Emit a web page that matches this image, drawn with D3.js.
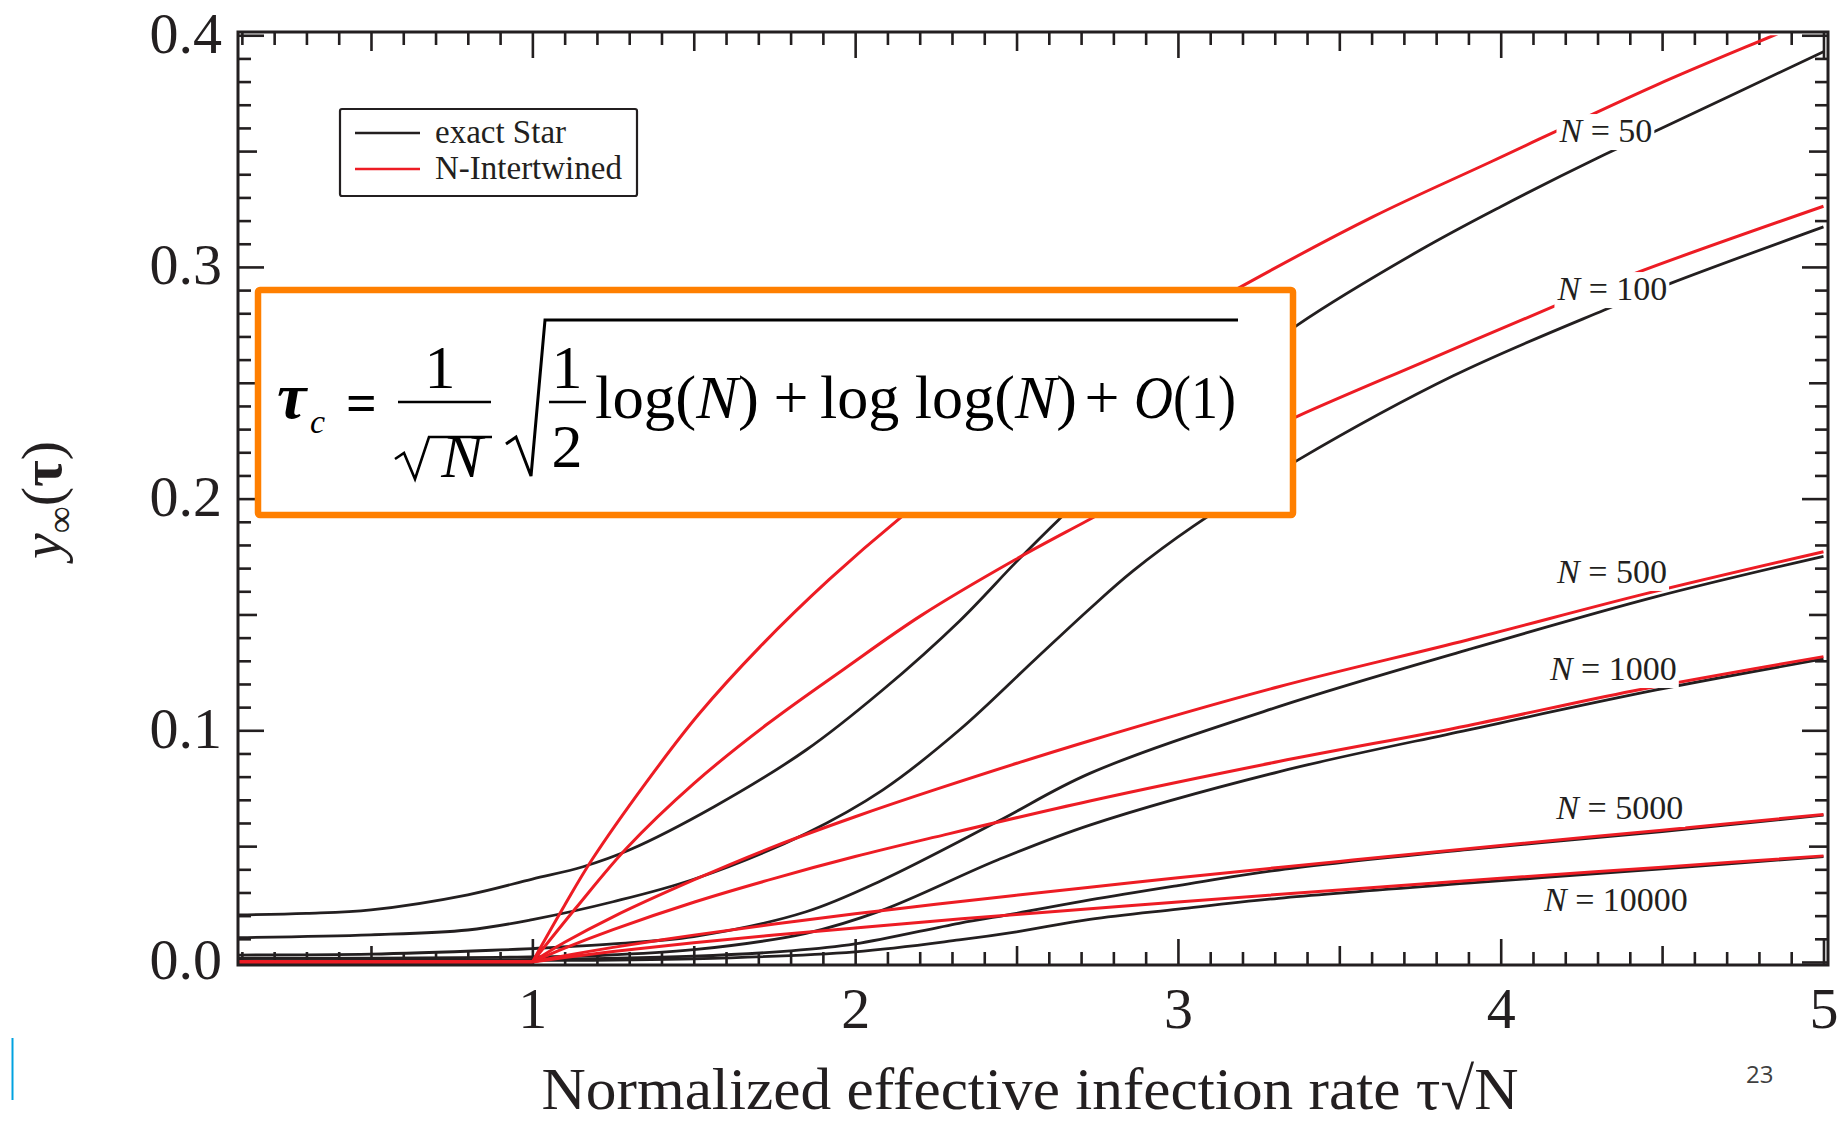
<!DOCTYPE html>
<html>
<head>
<meta charset="utf-8">
<script src="https://cdn.jsdelivr.net/npm/d3@7"></script>
<style>
  body { margin: 0; background: #fff; }
  svg { display: block; }
</style>
</head>
<body>
<script>
const width = 1847;
const height = 1123;

// Network sizes, one pair of curves each.
const sizes = [50, 100, 500, 1000, 5000, 10000];

// exact Star curves, [tau*sqrt(N), y_inf].
const star50 = [[0.09,0.0203],[0.3,0.0210],[0.5,0.0225],[0.8,0.0290],[1.0,0.0358],[1.157,0.0411],[1.3,0.0483],[1.563,0.067],[1.848,0.0915],[2.085,0.1174],[2.322,0.147],[2.5,0.1728],[2.63,0.1908],[2.8,0.213],[3.0,0.236],[3.2,0.257],[3.37,0.2749],[3.751,0.3073],[4.0,0.326],[4.3,0.347],[4.5,0.360],[5.0,0.3929]];
const star100 = [[0.09,0.0105],[0.5,0.0117],[0.8,0.0138],[1.0,0.0183],[1.25,0.026],[1.5,0.0357],[1.848,0.0555],[2.085,0.0742],[2.322,0.100],[2.559,0.1308],[2.727,0.1525],[2.861,0.1688],[3.047,0.1880],[3.37,0.2165],[3.853,0.2530],[4.321,0.2814],[4.526,0.2929],[5.0,0.3173]];
const star500 = [[0.09,0.003],[0.5,0.0034],[0.9,0.0052],[1.0,0.0058],[1.25,0.0078],[1.5,0.011],[1.848,0.0217],[2.085,0.0354],[2.441,0.0606],[2.727,0.0814],[3.312,0.1102],[3.897,0.1347],[4.482,0.1577],[5.0,0.1751]];
const star1000 = [[0.09,0.0015],[0.9,0.002],[1.2,0.0028],[1.5,0.0053],[1.848,0.0124],[2.085,0.0224],[2.441,0.044],[2.727,0.0591],[3.312,0.0821],[3.897,0.1001],[4.482,0.1174],[5.0,0.1308]];
const star5000 = [[0.09,0.0006],[0.9,0.0009],[1.5,0.0025],[1.8,0.0048],[2.0,0.0078],[2.322,0.0167],[2.5,0.021],[2.727,0.0268],[3.0,0.033],[3.312,0.0397],[3.897,0.0485],[4.5,0.0563],[5.0,0.0634]];
const star10000 = [[0.09,0.0004],[0.9,0.0006],[1.5,0.0014],[2.0,0.0044],[2.322,0.0095],[2.5,0.013],[2.727,0.0184],[3.0,0.0228],[3.312,0.0275],[3.897,0.034],[4.5,0.0402],[5.0,0.0455]];

// N-Intertwined curves, zero below the threshold.
const nimfa50 = [[0.09,0],[1.0,0],[1.1,0.0245],[1.184,0.044],[1.35,0.077],[1.516,0.107],[1.705,0.136],[1.919,0.165],[2.138,0.1915],[2.4,0.2197],[2.7,0.2492],[3.0,0.2758],[3.196,0.2915],[3.605,0.3217],[3.97,0.3454],[4.482,0.3785],[4.848,0.4001],[5.0,0.409]];
const nimfa100 = [[0.09,0],[1.0,0],[1.136,0.0235],[1.291,0.049],[1.5,0.077],[1.729,0.1028],[1.966,0.1265],[2.204,0.1495],[2.494,0.1735],[2.713,0.190],[3.0,0.2112],[3.37,0.2355],[3.751,0.2584],[4.175,0.2836],[4.416,0.2972],[5.0,0.3262]];
const nimfa500 = [[0.09,0],[1.0,0],[1.1,0.0085],[1.25,0.0195],[1.5,0.0354],[1.75,0.0499],[2.0,0.0627],[2.25,0.0745],[2.727,0.0955],[3.312,0.1188],[3.897,0.139],[4.453,0.1591],[5.0,0.1771]];
const nimfa1000 = [[0.09,0],[1.0,0],[1.1,0.006],[1.25,0.014],[1.5,0.0258],[1.75,0.0361],[2.0,0.0455],[2.25,0.054],[2.727,0.0695],[3.312,0.0865],[3.897,0.102],[4.409,0.117],[5.0,0.1318]];
const nimfa5000 = [[0.09,0],[1.0,0],[1.1,0.0027],[1.25,0.0063],[1.5,0.0116],[1.75,0.0164],[2.0,0.0208],[2.25,0.0249],[2.727,0.0323],[3.0,0.0364],[3.5,0.0434],[4.0,0.0503],[4.5,0.0569],[5.0,0.0637]];
const nimfa10000 = [[0.09,0],[1.0,0],[1.1,0.0019],[1.25,0.0045],[1.5,0.0083],[1.75,0.0116],[2.0,0.0147],[2.25,0.0177],[2.5,0.0205],[3.0,0.0259],[3.5,0.0311],[4.0,0.0361],[4.5,0.0409],[5.0,0.0458]];

const starSeries = [star50, star100, star500, star1000, star5000, star10000];
const nimfaSeries = [nimfa50, nimfa100, nimfa500, nimfa1000, nimfa5000, nimfa10000];

// Tick labels.
const xTickLabels = ["1", "2", "3", "4", "5"];
const yTickLabels = ["0.0", "0.1", "0.2", "0.3", "0.4"];
const legendLabels = ["exact Star", "N-Intertwined"];

// Where each "N = ..." label sits (data units, text centre / baseline).
const labelAt = [[4.326,0.3539],[4.346,0.2857],[4.345,0.1636],[4.349,0.1217],[4.369,0.0617],[4.357,0.0220]];

const ink = "#231f20";
const red = "#ed1c24";
const orange = "#ff7f00";
const serif = "'Liberation Serif', 'Times New Roman', serif";

const svg = d3.select("body").append("svg")
  .attr("width", width)
  .attr("height", height)
  .style("background", "#fff");

// Scales: plot frame 238..1828 x 32..965.
const x = d3.scaleLinear().domain([0.088, 5.014]).range([238, 1828]);
const y = d3.scaleLinear().domain([-0.0013, 0.4014]).range([965, 32]);

const plotLeft = x.range()[0], plotRight = x.range()[1];
const plotTop = y.range()[1], plotBottom = y.range()[0];

// Tick classes.
const xAll = d3.range(1, 51).map(i => +(i / 10).toFixed(1));
const xMinor = xAll.filter(v => Math.round(v * 10) % 5 !== 0);
const xMid = xAll.filter(v => Math.round(v * 10) % 5 === 0 && Math.round(v * 10) % 10 !== 0);
const xMajor = xAll.filter(v => Math.round(v * 10) % 10 === 0);
const yAll = d3.range(0, 41).map(i => +(i / 100).toFixed(2));
const yMinor = yAll.filter(v => Math.round(v * 100) % 5 !== 0);
const yMid = yAll.filter(v => Math.round(v * 100) % 5 === 0 && Math.round(v * 100) % 10 !== 0);
const yMajor = yAll.filter(v => Math.round(v * 100) % 10 === 0);

const tickSets = [[xMinor, yMinor, 13], [xMid, yMid, 19], [xMajor, yMajor, 26]];

function styleAxis(g) {
  g.select(".domain").remove();
  g.selectAll(".tick line").attr("stroke", ink).attr("stroke-width", 2.6);
}

tickSets.forEach(([xv, yv, len]) => {
  svg.append("g").attr("transform", `translate(0,${plotBottom})`)
    .call(d3.axisBottom(x).tickValues(xv).tickSize(-len).tickFormat(""))
    .call(styleAxis);
  svg.append("g").attr("transform", `translate(0,${plotTop})`)
    .call(d3.axisTop(x).tickValues(xv).tickSize(-len).tickFormat(""))
    .call(styleAxis);
  svg.append("g").attr("transform", `translate(${plotLeft},0)`)
    .call(d3.axisLeft(y).tickValues(yv).tickSize(-len).tickFormat(""))
    .call(styleAxis);
  svg.append("g").attr("transform", `translate(${plotRight},0)`)
    .call(d3.axisRight(y).tickValues(yv).tickSize(-len).tickFormat(""))
    .call(styleAxis);
});

// Tick labels.
const xLab = svg.append("g").attr("transform", `translate(0,${plotBottom})`)
  .call(d3.axisBottom(x).tickValues(xMajor).tickSize(0)
    .tickFormat((d, i) => xTickLabels[i]));
xLab.select(".domain").remove();
xLab.selectAll("text")
  .attr("y", 63).attr("dy", null)
  .attr("fill", ink)
  .style("font-family", serif).style("font-size", "58px");

const yLab = svg.append("g").attr("transform", `translate(${plotLeft},0)`)
  .call(d3.axisLeft(y).tickValues(yMajor).tickSize(0).tickPadding(16)
    .tickFormat((d, i) => yTickLabels[i]));
yLab.select(".domain").remove();
yLab.selectAll("text")
  .attr("dy", "0.29em")
  .attr("fill", ink)
  .style("font-family", serif).style("font-size", "58px");

// Clip to the plot area (lines stop at 0.4).
svg.append("clipPath").attr("id", "plot")
  .append("rect")
  .attr("x", plotLeft).attr("y", y(0.4))
  .attr("width", plotRight - plotLeft).attr("height", plotBottom - y(0.4));

const line = d3.line()
  .x(d => x(d[0]))
  .y(d => y(d[1]))
  .curve(d3.curveCatmullRom.alpha(0.5));

const curves = svg.append("g").attr("clip-path", "url(#plot)");

curves.selectAll(".star")
  .data(starSeries)
  .enter()
  .append("path")
  .attr("class", "star")
  .attr("fill", "none")
  .attr("stroke", ink)
  .attr("stroke-width", 2.8)
  .attr("d", line);

// The N-Intertwined curves kink at the threshold, so draw both pieces.
const nimfaPieces = [];
nimfaSeries.forEach(s => {
  nimfaPieces.push(s.filter(d => d[0] <= 1));
  nimfaPieces.push(s.filter(d => d[0] >= 1));
});

curves.selectAll(".nimfa")
  .data(nimfaPieces)
  .enter()
  .append("path")
  .attr("class", "nimfa")
  .attr("fill", "none")
  .attr("stroke", red)
  .attr("stroke-width", 3)
  .attr("d", line);

// "N = ..." labels with a white knock-out behind them.
const labels = svg.append("g");
sizes.forEach((n, i) => {
  const g = labels.append("g");
  const bg = g.append("rect").attr("fill", "#fff");
  const t = g.append("text")
    .attr("x", x(labelAt[i][0]))
    .attr("y", y(labelAt[i][1]))
    .attr("text-anchor", "middle")
    .attr("fill", ink)
    .style("font-family", serif)
    .style("font-size", "34px");
  t.append("tspan").style("font-style", "italic").text("N");
  t.append("tspan").text(" = " + n);
  const b = t.node().getBBox();
  bg.attr("x", b.x - 2).attr("y", b.y + 2)
    .attr("width", b.width + 4).attr("height", b.height - 1);
});

// Plot frame.
svg.append("rect")
  .attr("x", plotLeft).attr("y", plotTop)
  .attr("width", plotRight - plotLeft).attr("height", plotBottom - plotTop)
  .attr("fill", "none")
  .attr("stroke", ink)
  .attr("stroke-width", 3);

// Legend.
const legend = svg.append("g");
legend.append("rect")
  .attr("x", 340).attr("y", 109)
  .attr("width", 297).attr("height", 87)
  .attr("rx", 2)
  .attr("fill", "#fff")
  .attr("stroke", ink)
  .attr("stroke-width", 2.2);
[ink, red].forEach((c, i) => {
  const ly = 133 + i * 36;
  legend.append("line")
    .attr("x1", 355).attr("x2", 420)
    .attr("y1", ly).attr("y2", ly)
    .attr("stroke", c).attr("stroke-width", 2.6);
  legend.append("text")
    .attr("x", 435).attr("y", ly + 10)
    .attr("fill", ink)
    .style("font-family", serif).style("font-size", "33px")
    .text(legendLabels[i]);
});

// Orange box with the threshold formula.
const box = svg.append("g");
box.append("rect")
  .attr("x", 258).attr("y", 290)
  .attr("width", 1035).attr("height", 225)
  .attr("rx", 2)
  .attr("fill", "#fff")
  .attr("stroke", orange)
  .attr("stroke-width", 6.5);

function mtext(tx, ty, size, str, opts = {}) {
  const t = box.append("text")
    .attr("x", tx).attr("y", ty)
    .attr("text-anchor", opts.anchor || "start")
    .attr("fill", "#000")
    .style("font-family", serif)
    .style("font-size", size + "px")
    .style("font-style", opts.italic ? "italic" : "normal")
    .style("font-weight", opts.bold ? "bold" : "normal")
    .text(str);
  return t;
}

mtext(277, 418, 66, "τ", { italic: true, bold: true });
mtext(310, 433, 34, "c", { italic: true });
mtext(346, 421, 54, "=", { bold: true });

// 1 / sqrt(N)
mtext(440, 388, 62, "1", { anchor: "middle" });
box.append("line").attr("x1", 398).attr("x2", 491).attr("y1", 402).attr("y2", 402)
  .attr("stroke", "#000").attr("stroke-width", 2.6);
box.append("path")
  .attr("d", "M395,459 L404,453 L415,479 L429,437 L492,437")
  .attr("fill", "none").attr("stroke", "#000").attr("stroke-width", 2.6)
  .attr("stroke-linejoin", "miter");
mtext(462, 477, 62, "N", { anchor: "middle", italic: true });

// big radical
box.append("path")
  .attr("d", "M506,444 L516,437 L531,476 L545,320 L1238,320")
  .attr("fill", "none").attr("stroke", "#000").attr("stroke-width", 3)
  .attr("stroke-linejoin", "miter");

// 1/2
mtext(567, 388, 62, "1", { anchor: "middle" });
box.append("line").attr("x1", 549).attr("x2", 586).attr("y1", 402).attr("y2", 402)
  .attr("stroke", "#000").attr("stroke-width", 2.6);
mtext(567, 467, 62, "2", { anchor: "middle" });

// pieces of the radicand, fitted to the widths seen in the picture
function logN(tx, prefix, w) {
  const t = mtext(tx, 418, 62, "")
    .attr("textLength", w).attr("lengthAdjust", "spacingAndGlyphs");
  t.append("tspan").text(prefix + "(");
  t.append("tspan").style("font-style", "italic").text("N");
  t.append("tspan").text(")");
  return t;
}
logN(595, "log", 164);
mtext(791, 418, 62, "+", { anchor: "middle" });
logN(820, "log log", 257);
mtext(1102, 418, 62, "+", { anchor: "middle" });
const o1 = mtext(1134, 418, 62, "")
  .attr("textLength", 102).attr("lengthAdjust", "spacingAndGlyphs");
o1.append("tspan").style("font-style", "italic").text("O");
o1.append("tspan").text("(1)");

// Axis titles.
svg.append("text")
  .attr("x", 1030).attr("y", 1109)
  .attr("text-anchor", "middle")
  .attr("textLength", 977)
  .attr("lengthAdjust", "spacingAndGlyphs")
  .attr("fill", ink)
  .style("font-family", serif).style("font-size", "60px")
  .text("Normalized effective infection rate τ√N");

const yt = svg.append("text")
  .attr("transform", "translate(61,500) rotate(-90)")
  .attr("text-anchor", "middle")
  .attr("fill", ink)
  .style("font-family", serif).style("font-size", "58px");
yt.append("tspan").style("font-style", "italic").text("y");
yt.append("tspan").attr("dy", 12).style("font-size", "38px").text("∞");
yt.append("tspan").attr("dy", -12).text("(");
yt.append("tspan").style("font-weight", "bold").text("τ");
yt.append("tspan").text(")");

// Slide furniture: page number and accent bar.
svg.append("text")
  .attr("x", 1746).attr("y", 1083)
  .attr("fill", "#404040")
  .style("font-family", "'Open Sans', 'Noto Sans', sans-serif")
  .style("font-size", "24px")
  .text("23");

svg.append("line")
  .attr("x1", 12.5).attr("x2", 12.5)
  .attr("y1", 1038).attr("y2", 1100)
  .attr("stroke", "#00a2e0")
  .attr("stroke-width", 2);
</script>
</body>
</html>
